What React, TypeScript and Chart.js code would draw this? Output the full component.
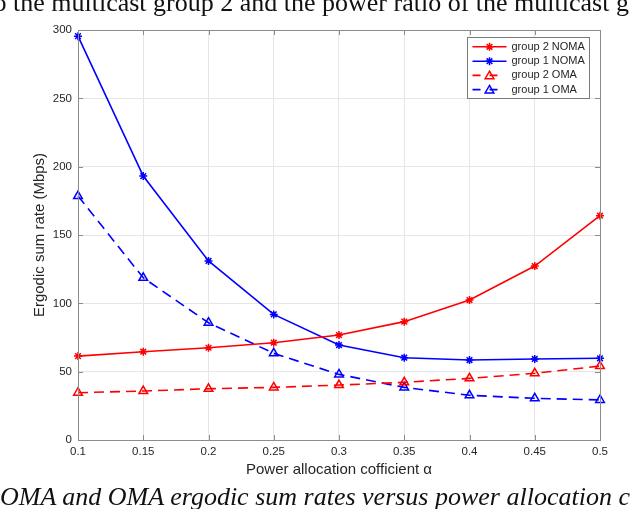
import React, { useEffect, useRef } from 'react';
import { Chart, registerables } from 'chart.js';

Chart.register(...registerables);

const alphaValues = [0.1, 0.15, 0.2, 0.25, 0.3, 0.35, 0.4, 0.45, 0.5];
const group2Noma = [61.4, 64.6, 67.5, 71.2, 76.8, 86.6, 102.4, 127.3, 164.1];
const group1Noma = [295.5, 193.1, 131.0, 91.9, 69.5, 60.2, 58.5, 59.3, 59.8];
const group2Oma = [34.6, 35.8, 37.5, 38.5, 40.2, 42.2, 45.1, 48.8, 54.1];
const group1Oma = [178.5, 118.7, 85.8, 63.4, 48.0, 38.5, 32.7, 30.5, 29.3];

const xTicks = [0.1, 0.15, 0.2, 0.25, 0.3, 0.35, 0.4, 0.45, 0.5];
const xTickLabels = ['0.1', '0.15', '0.2', '0.25', '0.3', '0.35', '0.4', '0.45', '0.5'];
const yTicks = [0, 50, 100, 150, 200, 250, 300];
const yTickLabels = ['0', '50', '100', '150', '200', '250', '300'];

const seriesNames = ['group 2 NOMA', 'group 1 NOMA', 'group 2 OMA', 'group 1 OMA'];

const topCaption = 'o the multicast group 2 and the power ratio of the multicast g';
const bottomCaption = 'OMA and OMA ergodic sum rates versus power allocation c';

const RED = '#ff0000';
const BLUE = '#0000ff';
const AXIS = '#8c8c8c';
const TEXT = '#262626';
const SANS = '"Liberation Sans", Arial, Helvetica, sans-serif';
const DASH = [10, 6];

function drawStar(ctx: CanvasRenderingContext2D, x: number, y: number, r: number) {
  ctx.beginPath();
  for (let k = 0; k < 4; k++) {
    const a = (k * Math.PI) / 4;
    ctx.moveTo(x - Math.cos(a) * r, y - Math.sin(a) * r);
    ctx.lineTo(x + Math.cos(a) * r, y + Math.sin(a) * r);
  }
  ctx.stroke();
}

function drawTriangle(ctx: CanvasRenderingContext2D, x: number, y: number, r: number) {
  ctx.beginPath();
  let rad = 0;
  ctx.moveTo(x + Math.sin(rad) * r, y - Math.cos(rad) * r);
  rad += (2 * Math.PI) / 3;
  ctx.lineTo(x + Math.sin(rad) * r, y - Math.cos(rad) * r);
  rad += (2 * Math.PI) / 3;
  ctx.lineTo(x + Math.sin(rad) * r, y - Math.cos(rad) * r);
  ctx.closePath();
  ctx.stroke();
}

const framePlugin = {
  id: 'matlabFrame',
  afterDraw(chart: any) {
    const { ctx, chartArea } = chart;
    const { left, right, top, bottom } = chartArea;
    const xs = chart.scales.x;
    const ys = chart.scales.y;
    ctx.save();
    ctx.strokeStyle = AXIS;
    ctx.lineWidth = 1;
    ctx.setLineDash([]);
    ctx.strokeRect(Math.round(left) + 0.5, Math.round(top) + 0.5, Math.round(right - left), Math.round(bottom - top));
    const tl = 5;
    ctx.beginPath();
    for (const v of xTicks) {
      const px = Math.round(xs.getPixelForValue(v)) + 0.5;
      ctx.moveTo(px, bottom);
      ctx.lineTo(px, bottom - tl);
      ctx.moveTo(px, top);
      ctx.lineTo(px, top + tl);
    }
    for (const v of yTicks) {
      const py = Math.round(ys.getPixelForValue(v)) + 0.5;
      ctx.moveTo(left, py);
      ctx.lineTo(left + tl, py);
      ctx.moveTo(right, py);
      ctx.lineTo(right - tl, py);
    }
    ctx.stroke();

    // legend
    const bx = 467.5, by = 37.5, bw = 122, bh = 61;
    ctx.fillStyle = '#ffffff';
    ctx.fillRect(bx, by, bw, bh);
    ctx.strokeStyle = '#7a7a7a';
    ctx.strokeRect(bx, by, bw, bh);
    const rows = [46.8, 61.2, 75.4, 89.6];
    chart.data.datasets.forEach((ds: any, i: number) => {
      const yy = rows[i];
      ctx.strokeStyle = ds.borderColor;
      ctx.lineWidth = 1.6;
      ctx.setLineDash(ds.borderDash ? [8, 9] : []);
      ctx.beginPath();
      ctx.moveTo(472.5, yy);
      ctx.lineTo(506.5, yy);
      ctx.stroke();
      ctx.setLineDash([]);
      ctx.lineWidth = 1.5;
      if (ds.pointStyle === 'star') drawStar(ctx, 489.5, yy, 4);
      else drawTriangle(ctx, 489.5, yy + 0.8, 5);
      ctx.fillStyle = TEXT;
      ctx.font = `11px ${SANS}`;
      ctx.textBaseline = 'middle';
      ctx.textAlign = 'left';
      ctx.fillText(ds.label, 511.5, yy);
    });
    ctx.restore();
  },
};

function makeData(values: number[]) {
  return alphaValues.map((a, i) => ({ x: a, y: values[i] }));
}

export default function App() {
  const canvasRef = useRef<HTMLCanvasElement | null>(null);

  useEffect(() => {
    if (!canvasRef.current) return;
    const common = {
      borderWidth: 1.6,
      pointRadius: 4,
      pointBorderWidth: 1.5,
      pointBackgroundColor: 'rgba(0,0,0,0)',
      tension: 0,
      fill: false,
      clip: false as any,
    };
    const chart = new Chart(canvasRef.current, {
      type: 'line',
      data: {
        datasets: [
          { ...common, label: seriesNames[0], data: makeData(group2Noma), borderColor: RED, pointBorderColor: RED, pointStyle: 'star' },
          { ...common, label: seriesNames[1], data: makeData(group1Noma), borderColor: BLUE, pointBorderColor: BLUE, pointStyle: 'star' },
          { ...common, label: seriesNames[2], data: makeData(group2Oma), borderColor: RED, pointBorderColor: RED, pointStyle: 'triangle', pointRadius: 5, borderDash: DASH },
          { ...common, label: seriesNames[3], data: makeData(group1Oma), borderColor: BLUE, pointBorderColor: BLUE, pointStyle: 'triangle', pointRadius: 5, borderDash: DASH },
        ] as any,
      },
      options: {
        responsive: false,
        animation: false,
        events: [],
        layout: { padding: { top: 30, right: 40, left: 0, bottom: 29 } },
        plugins: {
          legend: { display: false },
          title: { display: false },
          tooltip: { enabled: false },
        },
        scales: {
          x: {
            type: 'linear',
            min: 0.1,
            max: 0.5,
            afterBuildTicks: (s: any) => {
              s.ticks = xTicks.map((v) => ({ value: v }));
            },
            afterFit: (s: any) => {
              s.height = 40;
            },
            ticks: {
              callback: (_v: any, i: number) => xTickLabels[i],
              color: TEXT,
              font: { family: SANS, size: 11.5 },
              padding: 5,
              maxRotation: 0,
              autoSkip: false,
            },
            grid: { color: '#e6e6e6', drawTicks: false },
            border: { display: false },
            title: {
              display: true,
              text: 'Power allocation cofficient α',
              color: TEXT,
              font: { family: SANS, size: 15 },
              padding: { top: 4, bottom: 1 },
            },
          },
          y: {
            type: 'linear',
            min: 0,
            max: 300,
            afterBuildTicks: (s: any) => {
              s.ticks = yTicks.map((v) => ({ value: v }));
            },
            afterFit: (s: any) => {
              s.width = 78;
            },
            ticks: {
              callback: (_v: any, i: number) => yTickLabels[i],
              color: TEXT,
              font: { family: SANS, size: 11.5 },
              padding: 6,
              autoSkip: false,
            },
            grid: { color: '#e6e6e6', drawTicks: false },
            border: { display: false },
            title: {
              display: true,
              text: 'Ergodic sum rate (Mbps)',
              color: TEXT,
              font: { family: SANS, size: 15 },
              padding: { top: 31, bottom: 0 },
            },
          },
        },
      } as any,
      plugins: [framePlugin],
    });
    return () => chart.destroy();
  }, []);

  return (
    <div style={{ position: 'fixed', left: 0, top: 0, width: 640, height: 509, overflow: 'hidden', background: '#fff' }}>
      <canvas ref={canvasRef} width={640} height={509} style={{ position: 'absolute', left: 0, top: 0, width: 640, height: 509 }} />
      <div
        style={{
          position: 'absolute',
          left: -6.5,
          top: -10.5,
          fontFamily: '"Liberation Serif", "Times New Roman", serif',
          fontSize: 26,
          lineHeight: '26px',
          whiteSpace: 'nowrap',
          color: '#111',
        }}
      >
        {topCaption}
      </div>
      <div
        style={{
          position: 'absolute',
          left: 0,
          top: 484,
          fontFamily: '"Liberation Serif", "Times New Roman", serif',
          fontStyle: 'italic',
          fontSize: 26,
          lineHeight: '26px',
          whiteSpace: 'nowrap',
          color: '#111',
        }}
      >
        {bottomCaption}
      </div>
    </div>
  );
}
